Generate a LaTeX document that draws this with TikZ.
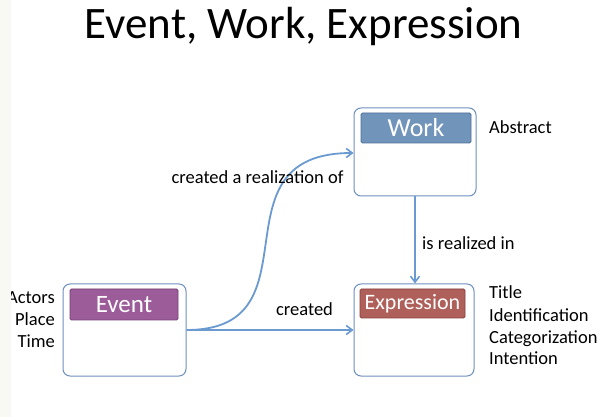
\documentclass[tikz,border=0pt]{standalone}
\usepackage{fontspec}
\setmainfont{Carlito}
\usetikzlibrary{arrows.meta}
\definecolor{boxline}{HTML}{6F8FBF}
\definecolor{linkcol}{HTML}{6A9AD0}
\definecolor{workfill}{HTML}{7194BA}
\definecolor{workline}{HTML}{4F6F99}
\definecolor{exprfill}{HTML}{B0605A}
\definecolor{exprline}{HTML}{86403C}
\definecolor{eventfill}{HTML}{9C5B99}
\definecolor{eventline}{HTML}{743F72}
\definecolor{sidestrip}{HTML}{F9F9F4}
\tikzset{
  entity/.style={draw=boxline, line width=1pt, rounded corners=7pt, fill=white,
    minimum width=#1, inner sep=0pt},
  header/.style={line width=0.8pt, rounded corners=1.5pt, inner sep=0pt, text=white},
  link/.style={draw=linkcol, line width=1.8pt, -{Straight Barb[length=6pt,width=9pt,line width=1.6pt]}},
  lbl/.style={font=\fontsize{18.5}{18.5}\selectfont, inner sep=0pt, anchor=base},
  attr/.style={font=\fontsize{18.5}{18.5}\selectfont, inner sep=0pt, anchor=base west},
  actor/.style={font=\fontsize{18.5}{18.5}\selectfont, inner sep=0pt, anchor=base east}
}
\begin{document}
\begin{tikzpicture}[x=1pt,y=-1pt]
  \useasboundingbox (0,0) rectangle (598,417);
  \fill[white] (0,0) rectangle (598,417);

  % title
  \node[font=\fontsize{45}{45}\selectfont, inner sep=0pt, anchor=base] (title) at (303.5,39) {Event, Work, Expression};

  % entity boxes
  \node[entity=122pt, minimum height=88pt] (work) at (415,152) {};
  \node[entity=120pt, minimum height=92pt] (expr) at (414,330) {};
  \node[entity=123pt, minimum height=92pt] (event) at (124.5,330) {};

  % coloured headers
  \node[header, fill=workfill, draw=workline, minimum width=110pt, minimum height=30pt,
        font=\fontsize{26}{26}\selectfont] (workh) at (416,128) {Work};
  \node[header, fill=exprfill, draw=exprline, minimum width=105pt, minimum height=29pt,
        font=\fontsize{22}{22}\selectfont] (exprh) at (412.5,303.5) {Expression};
  \node[header, fill=eventfill, draw=eventline, minimum width=108pt, minimum height=31pt,
        font=\fontsize{25}{25}\selectfont] (eventh) at (124,304.5) {Event};

  % connectors
  \coordinate (evout) at (event.east);
  \draw[link] (evout) -- (expr.west |- evout);
  \draw[link] (evout) .. controls (322,330) and (208,153) .. (work.west |- 0,153);
  \draw[link] (work.south) -- (expr.north -| work.south);

  % connector labels
  \node[lbl] (lrealof) at (257.5,184) {created a realization of};
  \node[lbl, anchor=base west] (lrealin) at (422,250) {is realized in};
  \node[lbl] (lcreated) at (304.5,316) {created};

  % attributes
  \node[attr] (abstract) at (489,134) {Abstract};
  \node[attr] (atitle) at (489,299) {Title};
  \node[attr] (aident) at (489,321) {Identification};
  \node[attr] (acateg) at (489,343) {Categorization};
  \node[attr] (aintent) at (489,364.5) {Intention};
  \node[actor] (aactors) at (55,304) {Actors};
  \node[actor] (aplace) at (55,326) {Place};
  \node[actor] (atime) at (55,348) {Time};

  % light margin strip on the left edge
  \fill[sidestrip] (0,0) rectangle (11,417);
\end{tikzpicture}
\end{document}
